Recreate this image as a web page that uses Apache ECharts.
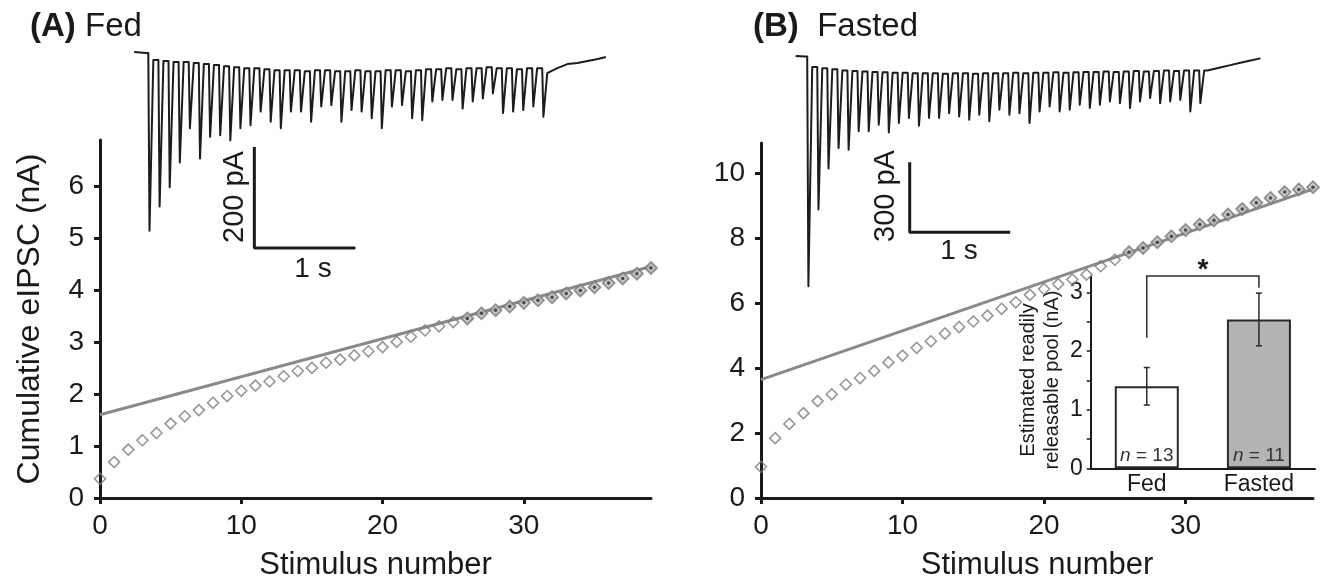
<!DOCTYPE html>
<html><head><meta charset="utf-8">
<script src="https://cdn.jsdelivr.net/npm/echarts@6/dist/echarts.min.js"></script>
<style>html,body{margin:0;padding:0;background:#fff}#c{width:1328px;height:587px}</style>
</head><body><div id="c"></div>
<script>
// ---------------- DATA ----------------
const stimulusNumber = [0,1,2,3,4,5,6,7,8,9,10,11,12,13,14,15,16,17,18,19,20,21,22,23,24,25,26,27,28,29,30,31,32,33,34,35,36,37,38,39];
const cumulativeFed = [0.37,0.69,0.93,1.11,1.25,1.43,1.57,1.69,1.83,1.96,2.06,2.16,2.24,2.34,2.44,2.50,2.60,2.66,2.74,2.82,2.90,3.00,3.10,3.22,3.30,3.38,3.45,3.55,3.61,3.68,3.75,3.80,3.86,3.93,3.99,4.05,4.13,4.22,4.31,4.42];
const cumulativeFasted = [0.96,1.84,2.28,2.61,2.98,3.19,3.49,3.69,3.91,4.17,4.38,4.62,4.82,5.06,5.26,5.43,5.61,5.82,6.02,6.25,6.43,6.58,6.72,6.87,7.13,7.33,7.56,7.69,7.87,8.05,8.24,8.41,8.54,8.72,8.89,9.08,9.23,9.41,9.49,9.56];
const fitFed = [[0,1.60],[39,4.45]];
const fitFasted = [[0,3.64],[39,9.50]];
const fitRangeStart = 26;   // points used for the linear fit (26..39)
const yTicksFed = [0,1,2,3,4,5,6];
const yTicksFasted = [0,2,4,6,8,10];
const xTicks = [0,10,20,30];

// Example traces (pA) - stimulus times (s), level before each stimulus, peak of each response
const stimTimes = [0,0.1,0.2,0.3,0.4,0.5,0.6,0.7,0.8,0.9,1.0,1.1,1.2,1.3,1.4,1.5,1.6,1.7,1.8,1.9,2.0,2.1,2.2,2.3,2.4,2.5,2.6,2.7,2.8,2.9,3.0,3.1,3.2,3.3,3.4,3.5,3.6,3.7,3.8,3.9];
const preLevelFed = [0,-14,-16,-18,-18,-20,-22,-24,-26,-28,-30,-30,-32,-34,-34,-34,-36,-34,-34,-36,-36,-34,-36,-36,-34,-34,-36,-34,-32,-32,-30,-32,-30,-30,-28,-30,-30,-32,-30,-30];
const peakFed = [-352,-304,-266,-217,-149,-209,-166,-163,-173,-149,-143,-116,-136,-149,-116,-116,-136,-106,-103,-136,-113,-116,-129,-149,-106,-103,-129,-133,-96,-93,-93,-110,-96,-90,-80,-119,-116,-113,-106,-126];
const tailFed = [[3.96,-40],[4.05,-30],[4.15,-22],[4.25,-20],[4.35,-16],[4.45,-12],[4.53,-8]];
const preLevelFasted = [0,-45,-50,-55,-60,-62,-64,-66,-68,-70,-70,-72,-72,-72,-74,-72,-72,-74,-72,-72,-72,-70,-72,-70,-70,-68,-70,-68,-66,-66,-64,-66,-64,-62,-64,-62,-60,-62,-60,-60];
const peakFasted = [-986,-657,-481,-393,-400,-321,-321,-293,-326,-285,-264,-297,-264,-264,-243,-257,-271,-250,-278,-228,-250,-243,-285,-236,-214,-236,-228,-207,-221,-207,-193,-200,-221,-193,-178,-200,-193,-186,-236,-200];
const tailFasted = [[3.98,-60],[4.1,-48],[4.2,-38],[4.3,-28],[4.4,-18],[4.51,-8]];
const scaleFed = {pA:200, s:1};
const scaleFasted = {pA:300, s:1};

// Inset
const groups = ['Fed','Fasted'];
const rrpMean = [1.40, 2.54];
const rrpSem = [0.32, 0.45];
const nCells = [13, 11];
const bracket = {leftLow:2.23, top:3.28, rightLow:3.08};
const insetTicks = [0,0.5,1,1.5,2,2.5,3];
const insetLabels = [0,1,2,3];

// ---------------- BUILD ----------------
function buildTrace(times, pre, peaks, tail, startT){
  const pts = [[startT, 2],[ -0.02, 0]];
  for (let i=0;i<times.length;i++){
    const next = i < times.length-1 ? pre[i+1] : tail[0][1];
    pts.push([times[i], pre[i]]);
    pts.push([times[i]+0.012, peaks[i]]);
    pts.push([times[i]+0.05, next]);
  }
  return pts.concat(tail);
}
const traceFed = buildTrace(stimTimes, preLevelFed, peakFed, tailFed, -0.14);
const traceFasted = buildTrace(stimTimes, preLevelFasted, peakFasted, tailFasted, -0.115);
const pairs = (vals)=>stimulusNumber.map((s,i)=>[s,vals[i]]);

const FONT = 'Liberation Sans, Arial, sans-serif';
const INK = '#1a1a1a';
const chart = echarts.init(document.getElementById('c'), null, {renderer:'canvas'});

function mainX(grid){
  return {gridIndex:grid, type:'value', min:0, max:39,
    axisLine:{lineStyle:{color:INK,width:3}},
    axisTick:{customValues:xTicks, length:6, lineStyle:{color:INK,width:3}},
    axisLabel:{customValues:xTicks, fontSize:28, color:INK, margin:14, fontFamily:FONT},
    splitLine:{show:false},
    name:'Stimulus number', nameLocation:'middle', nameGap:52,
    nameTextStyle:{fontSize:31, color:INK, fontFamily:FONT}};
}
function mainY(grid, max, ticks, name){
  return {gridIndex:grid, type:'value', min:0, max:max,
    axisLine:{show:true, lineStyle:{color:INK,width:3}},
    axisTick:{show:true, customValues:ticks, length:6, lineStyle:{color:INK,width:3}},
    axisLabel:{customValues:ticks, fontSize:28, color:INK, margin:16, fontFamily:FONT},
    splitLine:{show:false},
    name:name||'', nameLocation:'middle', nameGap:54,
    nameTextStyle:{fontSize:32, color:INK, fontFamily:FONT}};
}
function hidden(grid, min, max){
  return {gridIndex:grid, type:'value', min:min, max:max, show:false, splitLine:{show:false}};
}
function cumSeries(axis, vals){
  const all = pairs(vals);
  return [
    {type:'line', xAxisIndex:axis, yAxisIndex:axis, data:(axis===0?fitFed:fitFasted), symbol:'none', z:2,
      lineStyle:{color:'#8a8a8a', width:3}},
    {type:'scatter', xAxisIndex:axis, yAxisIndex:axis, data:all.slice(0,fitRangeStart),
      symbol:'diamond', symbolSize:11, z:3,
      itemStyle:{color:'rgba(255,255,255,0)', borderColor:'#7d7d7d', borderWidth:1.6}},
    {type:'scatter', xAxisIndex:axis, yAxisIndex:axis, data:all.slice(fitRangeStart),
      symbol:'diamond', symbolSize:12, z:3,
      itemStyle:{color:'#b9b9b9', borderColor:'#7a7a7a', borderWidth:1.8}},
    {type:'scatter', xAxisIndex:axis, yAxisIndex:axis, data:all.slice(fitRangeStart),
      symbol:'circle', symbolSize:3.5, z:4, itemStyle:{color:'#2a2a2a'}}
  ];
}

const option = {
  animation:false,
  textStyle:{fontFamily:FONT, color:INK},
  grid:[
    {left:100, top:140, width:551, height:358},
    {left:761, top:143, width:552, height:355},
    {left:128.1, top:42.9, width:484.8, height:363.6},
    {left:787.1, top:47.2, width:482.4, height:265.6},
    {left:1090.7, top:276.7, width:224.3, height:191.6}
  ],
  xAxis:[
    mainX(0), mainX(1), hidden(2,-0.2,4.6), hidden(3,-0.2,4.6),
    {gridIndex:4, type:'category', data:groups,
      axisLine:{lineStyle:{color:INK,width:2}}, axisTick:{show:false},
      axisLabel:{fontSize:23, color:INK, margin:5, fontFamily:FONT}}
  ],
  yAxis:[
    mainY(0, 6.88, yTicksFed, 'Cumulative eIPSC (nA)'),
    mainY(1, 10.92, yTicksFasted, ''),
    hidden(2,-700,20), hidden(3,-1100,40),
    {gridIndex:4, type:'value', min:0, max:3.27,
      axisLine:{show:true, lineStyle:{color:INK,width:2}},
      axisTick:{show:true, customValues:insetTicks, length:4, lineStyle:{color:INK,width:1.5}},
      axisLabel:{customValues:insetLabels, fontSize:23, color:INK, margin:8, fontFamily:FONT},
      splitLine:{show:false}}
  ],
  series:[].concat(cumSeries(0, cumulativeFed), cumSeries(1, cumulativeFasted), [
    {type:'line', xAxisIndex:2, yAxisIndex:2, data:traceFed, symbol:'none', z:5,
      lineStyle:{color:'#1c1c1c', width:2, join:'round'}},
    {type:'line', xAxisIndex:3, yAxisIndex:3, data:traceFasted, symbol:'none', z:5,
      lineStyle:{color:'#1c1c1c', width:2, join:'round'}},
    // scale bars
    {type:'line', xAxisIndex:2, yAxisIndex:2, symbol:'none', z:5,
      data:[[1.05,-186],[1.05,-186-scaleFed.pA],[1.05+scaleFed.s,-186-scaleFed.pA]],
      lineStyle:{color:INK,width:3}},
    {type:'line', xAxisIndex:3, yAxisIndex:3, symbol:'none', z:5,
      data:[[1.02,-454],[1.02,-454-scaleFasted.pA],[1.02+scaleFasted.s,-454-scaleFasted.pA]],
      lineStyle:{color:INK,width:3}},
    // inset bars
    {type:'bar', xAxisIndex:4, yAxisIndex:4, barWidth:64, z:4,
      data:rrpMean.map((v,i)=>({value:v, itemStyle:{color: i===0?'#ffffff':'#b4b4b4'}})),
      itemStyle:{borderColor:'#2a2a2a', borderWidth:2},
      label:{show:true, position:'insideBottom', distance:3,
        formatter:(p)=>'{i|n} = '+nCells[p.dataIndex],
        fontSize:19, color:'#333', fontFamily:FONT,
        rich:{i:{fontStyle:'italic', fontSize:19, color:'#333', fontFamily:FONT}}}},
    {type:'custom', xAxisIndex:4, yAxisIndex:4, z:6,
      data:groups.map((g,i)=>[i, rrpMean[i], rrpSem[i]]),
      renderItem:(params, api)=>{
        const x=api.value(0), m=api.value(1), e=api.value(2);
        const t=api.coord([x,m+e]), b=api.coord([x,m-e]);
        const st={stroke:'#2a2a2a', lineWidth:1.5};
        return {type:'group', children:[
          {type:'line', shape:{x1:t[0],y1:t[1],x2:b[0],y2:b[1]}, style:st},
          {type:'line', shape:{x1:t[0]-3,y1:t[1],x2:t[0]+3,y2:t[1]}, style:st},
          {type:'line', shape:{x1:b[0]-3,y1:b[1],x2:b[0]+3,y2:b[1]}, style:st}
        ]};
      }},
    {type:'custom', xAxisIndex:4, yAxisIndex:4, z:6,
      data:[[0,1,bracket.leftLow,bracket.top,bracket.rightLow]],
      renderItem:(params, api)=>{
        const a=api.coord([api.value(0),api.value(2)]);
        const b=api.coord([api.value(0),api.value(3)]);
        const c=api.coord([api.value(1),api.value(3)]);
        const d=api.coord([api.value(1),api.value(4)]);
        return {type:'group', children:[
          {type:'polyline', shape:{points:[a,b,c,d]}, style:{stroke:'#2a2a2a', lineWidth:1.5, fill:null}},
          {type:'text', x:(b[0]+c[0])/2, y:b[1]-6, style:{text:'*', fontSize:28, fontWeight:'bold', fontFamily:FONT, fill:INK, align:'center', verticalAlign:'middle'}}
        ]};
      }}
  ]),
  graphic:[
    {type:'text', left:30, top:10, style:{text:'{b|(A)} Fed', fontSize:33, fill:INK, fontFamily:FONT,
      rich:{b:{fontWeight:'bold', fontSize:33, fontFamily:FONT, fill:INK}}}},
    {type:'text', left:753, top:10, style:{text:'{b|(B)}  Fasted', fontSize:33, fill:INK, fontFamily:FONT,
      rich:{b:{fontWeight:'bold', fontSize:33, fontFamily:FONT, fill:INK}}}},
    {type:'text', x:235, y:197, rotation:Math.PI/2, style:{text:'200 pA', fontSize:29, fill:INK, fontFamily:FONT, align:'center', verticalAlign:'middle'}},
    {type:'text', x:313, y:269, style:{text:'1 s', fontSize:28, fill:INK, fontFamily:FONT, align:'center', verticalAlign:'middle'}},
    {type:'text', x:886, y:196, rotation:Math.PI/2, style:{text:'300 pA', fontSize:29, fill:INK, fontFamily:FONT, align:'center', verticalAlign:'middle'}},
    {type:'text', x:959, y:251, style:{text:'1 s', fontSize:28, fill:INK, fontFamily:FONT, align:'center', verticalAlign:'middle'}},
    {type:'text', x:1040, y:380, rotation:Math.PI/2, style:{text:'Estimated readily\nreleasable pool (nA)', fontSize:20, lineHeight:24, fill:INK, fontFamily:FONT, align:'center', verticalAlign:'middle'}}
  ]
};
chart.setOption(option);
</script></body></html>
